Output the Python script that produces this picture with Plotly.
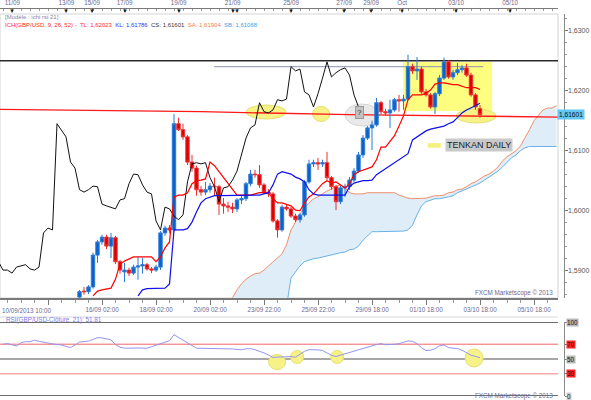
import plotly.graph_objects as go

W, H = 591, 400
FONT = "Liberation Sans"

# ---------------- data (H4 candles, index 0 = 10/09/2013 10:00) ----------------
candle_start = 17
opens = [1.5856, 1.5866, 1.5865, 1.5873, 1.5926, 1.5948, 1.5956, 1.5941, 1.5955, 1.5915,
         1.5898, 1.5901, 1.5896, 1.5906, 1.5908, 1.5910, 1.5903, 1.5901, 1.5906, 1.5963,
         1.5971, 1.5968, 1.6145, 1.6135, 1.6123, 1.6081, 1.6071, 1.6035, 1.6031, 1.6035,
         1.6041, 1.6040, 1.6011, 1.6008, 1.6006, 1.6003, 1.6018, 1.6020, 1.6045, 1.6061,
         1.6060, 1.6043, 1.6031, 1.6028, 1.5983, 1.5968, 1.6006, 1.6003, 1.5991, 1.5985,
         1.5993, 1.6048, 1.6078, 1.6080, 1.6078, 1.6080, 1.6055, 1.6040, 1.6015, 1.6038,
         1.6040, 1.6051, 1.6066, 1.6093, 1.6121, 1.6138, 1.6143, 1.6180, 1.6165, 1.6163,
         1.6168, 1.6185, 1.6183, 1.6186, 1.6240, 1.6233, 1.6236, 1.6198, 1.6193, 1.6173,
         1.6195, 1.6221, 1.6248, 1.6223, 1.6230, 1.6235, 1.6238, 1.6226, 1.6193, 1.6170]
highs = [1.5868, 1.5873, 1.5876, 1.5930, 1.5951, 1.5960, 1.5960, 1.5963, 1.5958, 1.5918,
         1.5913, 1.5905, 1.5910, 1.5923, 1.5921, 1.5913, 1.5906, 1.5910, 1.5966, 1.5975,
         1.5976, 1.6161, 1.6155, 1.6145, 1.6126, 1.6093, 1.6075, 1.6041, 1.6048, 1.6046,
         1.6055, 1.6043, 1.6021, 1.6015, 1.6013, 1.6021, 1.6026, 1.6048, 1.6068, 1.6068,
         1.6076, 1.6046, 1.6036, 1.6031, 1.5986, 1.6010, 1.6011, 1.6006, 1.5995, 1.5996,
         1.6051, 1.6085, 1.6085, 1.6088, 1.6085, 1.6098, 1.6058, 1.6043, 1.6041, 1.6045,
         1.6056, 1.6071, 1.6098, 1.6126, 1.6141, 1.6150, 1.6188, 1.6183, 1.6170, 1.6185,
         1.6188, 1.6193, 1.6193, 1.6260, 1.6245, 1.6256, 1.6240, 1.6203, 1.6196, 1.6198,
         1.6226, 1.6255, 1.6251, 1.6235, 1.6246, 1.6243, 1.6245, 1.6230, 1.6196, 1.6176]
lows = [1.5853, 1.5860, 1.5861, 1.5870, 1.5913, 1.5943, 1.5936, 1.5921, 1.5911, 1.5895,
        1.5881, 1.5891, 1.5893, 1.5885, 1.5895, 1.5900, 1.5896, 1.5898, 1.5901, 1.5958,
        1.5963, 1.5965, 1.6133, 1.6118, 1.6076, 1.6065, 1.6025, 1.6025, 1.6026, 1.6030,
        1.6025, 1.5993, 1.5995, 1.5998, 1.5996, 1.5998, 1.6011, 1.6016, 1.6041, 1.6055,
        1.6038, 1.6028, 1.6023, 1.5980, 1.5955, 1.5965, 1.6000, 1.5988, 1.5981, 1.5980,
        1.5990, 1.6045, 1.6073, 1.6068, 1.6073, 1.6051, 1.6035, 1.6001, 1.6011, 1.6023,
        1.6035, 1.6048, 1.6063, 1.6088, 1.6118, 1.6101, 1.6140, 1.6161, 1.6158, 1.6138,
        1.6165, 1.6165, 1.6168, 1.6183, 1.6228, 1.6218, 1.6195, 1.6190, 1.6170, 1.6161,
        1.6191, 1.6218, 1.6220, 1.6218, 1.6226, 1.6230, 1.6223, 1.6190, 1.6168, 1.6155]
closes = [1.5865, 1.5865, 1.5873, 1.5926, 1.5948, 1.5956, 1.5941, 1.5955, 1.5915, 1.5901,
          1.5901, 1.5896, 1.5906, 1.5908, 1.5910, 1.5903, 1.5901, 1.5906, 1.5963, 1.5971,
          1.5968, 1.6145, 1.6135, 1.6123, 1.6081, 1.6071, 1.6035, 1.6031, 1.6035, 1.6041,
          1.6040, 1.6011, 1.6008, 1.6006, 1.6003, 1.6018, 1.6020, 1.6045, 1.6061, 1.6060,
          1.6043, 1.6031, 1.6028, 1.5983, 1.5968, 1.6006, 1.6003, 1.5991, 1.5985, 1.5993,
          1.6048, 1.6078, 1.6080, 1.6078, 1.6080, 1.6055, 1.6040, 1.6015, 1.6038, 1.6040,
          1.6051, 1.6066, 1.6093, 1.6121, 1.6138, 1.6143, 1.6180, 1.6165, 1.6163, 1.6168,
          1.6185, 1.6183, 1.6186, 1.6240, 1.6233, 1.6236, 1.6198, 1.6193, 1.6173, 1.6195,
          1.6221, 1.6248, 1.6223, 1.6230, 1.6235, 1.6238, 1.6226, 1.6193, 1.6173, 1.61601]

tenkan_start = 20
tenkan = [1.5858, 1.5866, 1.5868, 1.5870, 1.5871, 1.5886, 1.5911, 1.5916, 1.5920, 1.5923,
          1.5923, 1.5923, 1.5923, 1.5923, 1.5915, 1.5923, 1.5938, 1.5948, 1.6023, 1.6026,
          1.6026, 1.6030, 1.6045, 1.6050, 1.6051, 1.6053, 1.6081, 1.6075, 1.6065, 1.6055,
          1.6045, 1.6036, 1.6026, 1.6026, 1.6026, 1.6026, 1.6028, 1.6030, 1.6030, 1.6030,
          1.6020, 1.6013, 1.6013, 1.6011, 1.6008, 1.6001, 1.6000, 1.6013, 1.6023, 1.6028,
          1.6036, 1.6045, 1.6050, 1.6046, 1.6048, 1.6043, 1.6038, 1.6045, 1.6060, 1.6065,
          1.6068, 1.6071, 1.6073, 1.6085, 1.6106, 1.6106, 1.6115, 1.6125, 1.6141, 1.6158,
          1.6185, 1.6193, 1.6193, 1.6193, 1.6196, 1.6201, 1.6211, 1.6213, 1.6213, 1.6211,
          1.6210, 1.6210, 1.6208, 1.6205, 1.6205, 1.6205, 1.6202]

kijun_start = 30
kijun = [1.5858, 1.5868, 1.5870, 1.5870, 1.5870, 1.5870, 1.5871, 1.5878, 1.5968, 1.5968,
         1.5968, 1.5970, 1.5981, 1.5998, 1.6013, 1.6020, 1.6023, 1.6025, 1.6025, 1.6025,
         1.6025, 1.6025, 1.6025, 1.6025, 1.6026, 1.6026, 1.6026, 1.6026, 1.6028, 1.6030,
         1.6043, 1.6061, 1.6065, 1.6063, 1.6061, 1.6056, 1.6053, 1.6048, 1.6035, 1.6028,
         1.6026, 1.6026, 1.6026, 1.6026, 1.6026, 1.6026, 1.6026, 1.6040, 1.6046, 1.6048,
         1.6050, 1.6050, 1.6051, 1.6060, 1.6065, 1.6071, 1.6076, 1.6081, 1.6086, 1.6090,
         1.6095, 1.6118, 1.6123, 1.6128, 1.6133, 1.6136, 1.6138, 1.6140, 1.6141, 1.6145,
         1.6148, 1.6155, 1.6163, 1.6168, 1.6171, 1.6175, 1.6179]

chikou_shift = 26

senkou_start = 51
senkou_a = [1.5855, 1.5868, 1.5878, 1.5886, 1.5891, 1.5895, 1.5896, 1.5901, 1.5908, 1.5915,
            1.5921, 1.5928, 1.5943, 1.5968, 1.5981, 1.5995, 1.6005, 1.6013, 1.6020, 1.6023,
            1.6028, 1.6033, 1.6036, 1.6041, 1.6043, 1.6038, 1.6030, 1.6028, 1.6028, 1.6028,
            1.6030, 1.6030, 1.6030, 1.6031, 1.6031, 1.6031, 1.6030, 1.6026, 1.6023, 1.6021,
            1.6020, 1.6020, 1.6020, 1.6021, 1.6023, 1.6025, 1.6025, 1.6026, 1.6030, 1.6031,
            1.6035, 1.6036, 1.6040, 1.6045, 1.6048, 1.6053, 1.6058, 1.6061, 1.6066, 1.6073,
            1.6083, 1.6090, 1.6095, 1.6100, 1.6108, 1.6121, 1.6135, 1.6150, 1.6160, 1.6168,
            1.6171, 1.6171, 1.6175]
senkou_b = [1.5840, 1.5840, 1.5840, 1.5840, 1.5840, 1.5840, 1.5840, 1.5840, 1.5840, 1.5840,
            1.5840, 1.5840, 1.5840, 1.5888, 1.5898, 1.5908, 1.5915, 1.5918, 1.5920, 1.5921,
            1.5923, 1.5925, 1.5926, 1.5928, 1.5930, 1.5931, 1.5935, 1.5936, 1.5941, 1.5951,
            1.5958, 1.5965, 1.5965, 1.5965, 1.5965, 1.5966, 1.5966, 1.5966, 1.5966, 1.5968,
            1.5976, 1.5993, 1.6008, 1.6015, 1.6018, 1.6020, 1.6020, 1.6021, 1.6023, 1.6025,
            1.6030, 1.6033, 1.6036, 1.6040, 1.6043, 1.6046, 1.6051, 1.6056, 1.6061, 1.6066,
            1.6073, 1.6081, 1.6088, 1.6093, 1.6100, 1.6105, 1.6107, 1.6107, 1.6107, 1.6107,
            1.6107, 1.6107, 1.6107]

rsi = [70.0, 70.9, 69.3, 67.4, 72.0, 73.4, 73.4, 75.4, 73.9, 72.6,
       71.1, 70.4, 69.7, 68.9, 67.0, 65.5, 68.9, 73.0, 73.4, 74.2,
       76.4, 78.9, 78.5, 77.4, 75.9, 69.5, 66.0, 64.6, 64.9, 65.3,
       64.9, 64.7, 64.6, 66.6, 68.6, 71.1, 73.4, 74.7, 82.8, 79.2,
       75.9, 72.7, 68.6, 64.6, 64.5, 64.5, 64.2, 63.8, 63.8, 64.1,
       64.3, 63.6, 62.9, 62.4, 63.8, 63.9, 62.6, 60.7, 58.2, 55.4,
       52.0, 52.6, 53.1, 53.2, 53.2, 52.4, 56.1, 60.4, 62.6, 62.8,
       62.4, 61.5, 57.8, 55.0, 53.4, 55.3, 57.3, 58.6, 60.3, 62.7,
       64.9, 66.2, 67.7, 69.5, 70.8, 69.3, 69.3, 69.9, 70.7, 72.4,
       74.5, 73.8, 70.7, 65.4, 61.4, 61.8, 63.9, 67.8, 68.9, 65.3,
       64.9, 64.1, 61.9, 58.1, 55.1, 53.5, 51.81]

# horizontal levels
resistance_high = 1.6250
resistance_low = 1.6240
resistance_low_span = [46.9, 106.7]
tenkan_daily_x = [-1, 44, 77, 124]
tenkan_daily_y = [1.6169, 1.6165, 1.6160, 1.6156]

# axes
top_tick_pos = [2.1, 14.1, 19.8, 27.0, 39.0, 51.0, 64.0, 75.8, 81.8, 88.7, 100.7, 112.7]
top_tick_labels = ["11/09", "13/09", "15/09", "17/09", "19/09", "21/09", "25/09",
                   "27/09", "29/09", "Oct", "03/10", "05/10"]
extra_marker_pos = [51.9]
bottom_tick_pos = [10, 22, 34, 46, 58, 70, 82, 94, 106, 118]
bottom_tick_labels = ["", "16/09 02:00", "18/09 02:00", "20/09 02:00", "23/09 22:00",
                      "25/09 22:00", "29/09 18:00", "01/10 18:00", "03/10 18:00", "05/10 18:00"]
first_bottom_label = "10/09/2013 10:00"
price_ticks = [1.59, 1.60, 1.61, 1.62, 1.63]
price_tick_labels = ["1,5900", "1,6000", "1,6100", "1,6200", "1,6300"]
rsi_levels = [100, 70, 50, 30, 0]
rsi_level_labels = ["100", "70", "50", "30", "0"]

legend_values = {"TL": "1,62023", "KL": "1,61786", "CS": "1,61601", "SA": "1,61904", "SB": "1,61068"}

# ---------------- geometry helpers ----------------
def px(x):
    return x / W

def py(y):
    return 1 - y / H

XR = [-0.667, 123.333]
YR = [1.58545, 1.632784]
XD = [0, px(558)]
AXIS_POS = px(564)

candle_x = list(range(candle_start, candle_start + len(closes)))
tenkan_x = list(range(tenkan_start, tenkan_start + len(tenkan)))
kijun_x = list(range(kijun_start, kijun_start + len(kijun)))
senkou_x = list(range(senkou_start, senkou_start + len(senkou_a)))
chikou_x = [i - chikou_shift for i in candle_x]
rsi_x = list(range(len(rsi)))

fig = go.Figure()

# cloud (base subplot)
fig.add_trace(go.Scatter(x=senkou_x, y=senkou_b, mode="lines", line=dict(width=0, color="rgba(0,0,0,0)"),
                         hoverinfo="skip"))
fig.add_trace(go.Scatter(x=senkou_x, y=senkou_a, mode="lines", line=dict(width=0, color="rgba(0,0,0,0)"),
                         fill="tonexty", fillcolor="#deedf8", hoverinfo="skip"))
fig.add_trace(go.Scatter(x=senkou_x, y=senkou_b, mode="lines", line=dict(width=1, color="#6ab2e6")))
fig.add_trace(go.Scatter(x=senkou_x, y=senkou_a, mode="lines", line=dict(width=1, color="#f0906a")))

# horizontal levels (base subplot)
fig.add_trace(go.Scatter(x=[XR[0] - 1, XR[1] + 1], y=[resistance_high, resistance_high], mode="lines",
                         line=dict(width=1.4, color="#2a2a2a")))
fig.add_trace(go.Scatter(x=resistance_low_span, y=[resistance_low, resistance_low], mode="lines",
                         line=dict(width=1, color="#8c93aa")))
fig.add_trace(go.Scatter(x=tenkan_daily_x, y=tenkan_daily_y, mode="lines",
                         line=dict(width=1.3, color="#ff1a1a")))

# dummy for top axis
fig.add_trace(go.Scatter(x=[None], y=[None], xaxis="x2", yaxis="y", mode="lines", showlegend=False))

# overlay subplot: candles + ichimoku lines
fig.add_trace(go.Candlestick(
    x=candle_x, open=opens, high=highs, low=lows, close=closes,
    xaxis="x", yaxis="y4",
    increasing=dict(line=dict(color="#2b7bd6", width=1), fillcolor="#0b62c9"),
    decreasing=dict(line=dict(color="#ec3030", width=1), fillcolor="#dc0000"),
    whiskerwidth=0, hoverinfo="skip"))
fig.add_trace(go.Scatter(x=chikou_x, y=closes, xaxis="x", yaxis="y4", mode="lines",
                         line=dict(width=1, color="#111111")))
fig.add_trace(go.Scatter(x=tenkan_x, y=tenkan, xaxis="x", yaxis="y4", mode="lines",
                         line=dict(width=1.2, color="#ff0000")))
fig.add_trace(go.Scatter(x=kijun_x, y=kijun, xaxis="x", yaxis="y4", mode="lines",
                         line=dict(width=1.2, color="#1010ee")))

# RSI
fig.add_trace(go.Scatter(x=rsi_x, y=rsi, xaxis="x3", yaxis="y3", mode="lines",
                         line=dict(width=1, color="#9595ee")))

shapes = []
# plot frame
shapes.append(dict(type="rect", xref="paper", yref="paper", x0=0, x1=px(558), y0=py(298), y1=py(14),
                   line=dict(color="#d4d4d4", width=1), layer="below"))
shapes.append(dict(type="line", xref="paper", yref="paper", x0=0, x1=px(558), y0=py(317), y1=py(317),
                   line=dict(color="#d8d8d8", width=1)))
# highlights
shapes.append(dict(type="rect", xref="x", yref="y", x0=88.9, x1=108.7, y0=1.61662, y1=1.62478,
                   fillcolor="#fdfd80", line=dict(width=0), layer="below"))
for (x0, x1, y0, y1) in [(54.0, 62.9, 1.61528, 1.61762), (68.8, 72.6, 1.61487, 1.61737),
                         (100.7, 109.6, 1.61462, 1.61695)]:
    shapes.append(dict(type="circle", xref="x", yref="y", x0=x0, x1=x1, y0=y0, y1=y1,
                       fillcolor="#f6f287", line=dict(color="#e6e070", width=1), layer="below"))
shapes.append(dict(type="circle", xref="x", yref="y", x0=76.0, x1=83.6, y0=1.61412, y1=1.61778,
                   fillcolor="#e9e9e9", line=dict(color="#d5d5d5", width=1), layer="below"))
shapes.append(dict(type="rect", xref="x", yref="y", x0=94.4, x1=97.3, y0=1.61050, y1=1.61125,
                   fillcolor="#f5f07a", line=dict(width=0)))
# RSI levels
rsi_level_colors = ["#6e6e6e", "#f06464", "#8a8a8a", "#f7a8a8", "#6e6e6e"]
rsi_level_widths = [2, 1, 1.5, 1.5, 2]
for lv, c, w in zip(rsi_levels, rsi_level_colors, rsi_level_widths):
    shapes.append(dict(type="line", xref="paper", yref="y3", x0=0, x1=px(558), y0=lv, y1=lv,
                       line=dict(color=c, width=w), layer="below"))
for (x0, x1, y0, y1) in [(59.0, 62.8, 35.8, 56.1), (63.9, 66.8, 43.9, 61.5), (72.8, 75.7, 43.9, 61.5),
                         (102.7, 106.7, 39.2, 63.5)]:
    shapes.append(dict(type="circle", xref="x3", yref="y3", x0=x0, x1=x1, y0=y0, y1=y1,
                       fillcolor="#f6f287", line=dict(color="#e6e070", width=1), layer="below"))

ann = []
def text(x, y, s, color="#333", size=6.5, xanchor="left", xref="paper", yref="paper", **kw):
    ann.append(dict(x=x, y=y, xref=xref, yref=yref, text=s, showarrow=False, xanchor=xanchor,
                    yanchor="middle", font=dict(family=FONT, size=size, color=color), **kw))

# legend header
text(px(3), py(16.5), "[Modèle : ichi rsi 21]", color="#8585a5", size=6)
legend_line = (
    '<span style="color:#ff2a2a">ICH(GBP/USD, 9, 26, 52) -  TL: ' + legend_values["TL"] + '</span>  '
    '<span style="color:#3333ff">KL: ' + legend_values["KL"] + '</span>  '
    '<span style="color:#3a3a3a">CS: ' + legend_values["CS"] + '</span>  '
    '<span style="color:#f08050">SA: ' + legend_values["SA"] + '</span>  '
    '<span style="color:#3d9fe0">SB: ' + legend_values["SB"] + '</span>'
)
text(px(3), py(24.5), legend_line, color="#ff2a2a", size=6)

# top-axis markers
for p in top_tick_pos + extra_marker_pos:
    text(p, py(11), "▼", color="#222", size=6, xanchor="center", xref="x")

# price labels on right axis
for v, lab in zip(price_ticks, price_tick_labels):
    text(px(566), v, lab, color="#555", size=7, yref="y")

# bottom first label
text(px(0), py(310), first_bottom_label, color="#6a6a92", size=6.3)

# watermarks
text(px(555), py(293), "FXCM Marketscope © 2013", color="#6a6a92", size=6.3, xanchor="right")
text(px(555), py(396), "FXCM Marketscope © 2013", color="#6a6a92", size=6.3, xanchor="right")

# last close label
text(px(557), closes[-1], "{:.5f}".format(closes[-1]).replace(".", ","), color="#111", size=6.6,
     yref="y", bgcolor="#62c6f6", borderpad=1)

# annotations on chart
text(79.3, 1.61645, "?", color="#333", size=8, xanchor="center", xref="x", yref="y",
     bgcolor="#c2c2c2", bordercolor="#9a9a9a", borderwidth=1, borderpad=1)
text(105.8, 1.6109, "TENKAN DAILY", color="#222", size=9, xanchor="center", xref="x", yref="y",
     bgcolor="#c9c9c9", borderpad=1)

# RSI title and level labels
text(px(4), py(319.5), "RSI(GBP/USD-Clôture, 21): " + "{:.2f}".format(rsi[-1]).replace(".", ","),
     color="#7c7ce6", size=6.3)
rsi_label_bg = ["#b8b8b8", "#ff2222", "#b8b8b8", "#ff2222", "#d0d0d0"]
for lv, lab, bg in zip(rsi_levels, rsi_level_labels, rsi_label_bg):
    text(px(566), lv, lab, color="#111", size=6.3, yref="y3", bgcolor=bg, borderpad=0)

axis_font = dict(family=FONT, size=6.3, color="#6a6a92")

fig.update_layout(
    width=W, height=H, margin=dict(l=0, r=0, t=0, b=0, pad=0),
    paper_bgcolor="white", plot_bgcolor="white", showlegend=False,
    font=dict(family=FONT), boxgap=0.25, boxgroupgap=0,
    xaxis=dict(domain=XD, range=XR, anchor="y", showgrid=False, zeroline=False,
               showline=True, linecolor="#7a7a7a", linewidth=1.5,
               ticks="outside", ticklen=5, tickcolor="#7a7a7a",
               tickmode="array", tickvals=bottom_tick_pos, ticktext=bottom_tick_labels,
               tickfont=axis_font, rangeslider=dict(visible=False),
               minor=dict(tickmode="linear", tick0=1, dtick=3, ticklen=3, ticks="outside", tickcolor="#9a9a9a")),
    xaxis2=dict(overlaying="x", range=XR, side="top", anchor="free", position=py(8),
                showgrid=False, zeroline=False, showline=True, linecolor="#7a7a7a", linewidth=1,
                ticks="inside", ticklen=3, tickcolor="#7a7a7a",
                tickmode="array", tickvals=top_tick_pos, ticktext=top_tick_labels, tickfont=axis_font,
                minor=dict(tickmode="linear", tick0=0, dtick=2, ticklen=2, ticks="inside", tickcolor="#9a9a9a")),
    yaxis=dict(domain=[py(298), py(14)], range=YR, anchor="free", position=AXIS_POS, side="right",
               showgrid=False, zeroline=False, showline=True, linecolor="#8a8a8a", linewidth=1,
               ticks="outside", ticklen=3, tickcolor="#7a7a7a",
               tickmode="array", tickvals=price_ticks, showticklabels=False,
               minor=dict(tickmode="linear", tick0=1.59, dtick=0.002, ticklen=2, ticks="outside", tickcolor="#9a9a9a")),
    yaxis4=dict(overlaying="y", range=YR, matches="y", visible=False),
    xaxis3=dict(domain=XD, range=XR, anchor="y3", visible=False),
    yaxis3=dict(domain=[py(396), py(322)], range=[0, 100], anchor="free", position=AXIS_POS, side="right",
                showgrid=False, zeroline=False, showline=True, linecolor="#8a8a8a", linewidth=1,
                ticks="outside", ticklen=3, tickcolor="#7a7a7a", tickvals=rsi_levels, showticklabels=False),
    shapes=shapes, annotations=ann,
)

fig.write_html("out.html", config={"displayModeBar": False},
               post_script="document.body.style.margin='0';document.body.style.padding='0';")
